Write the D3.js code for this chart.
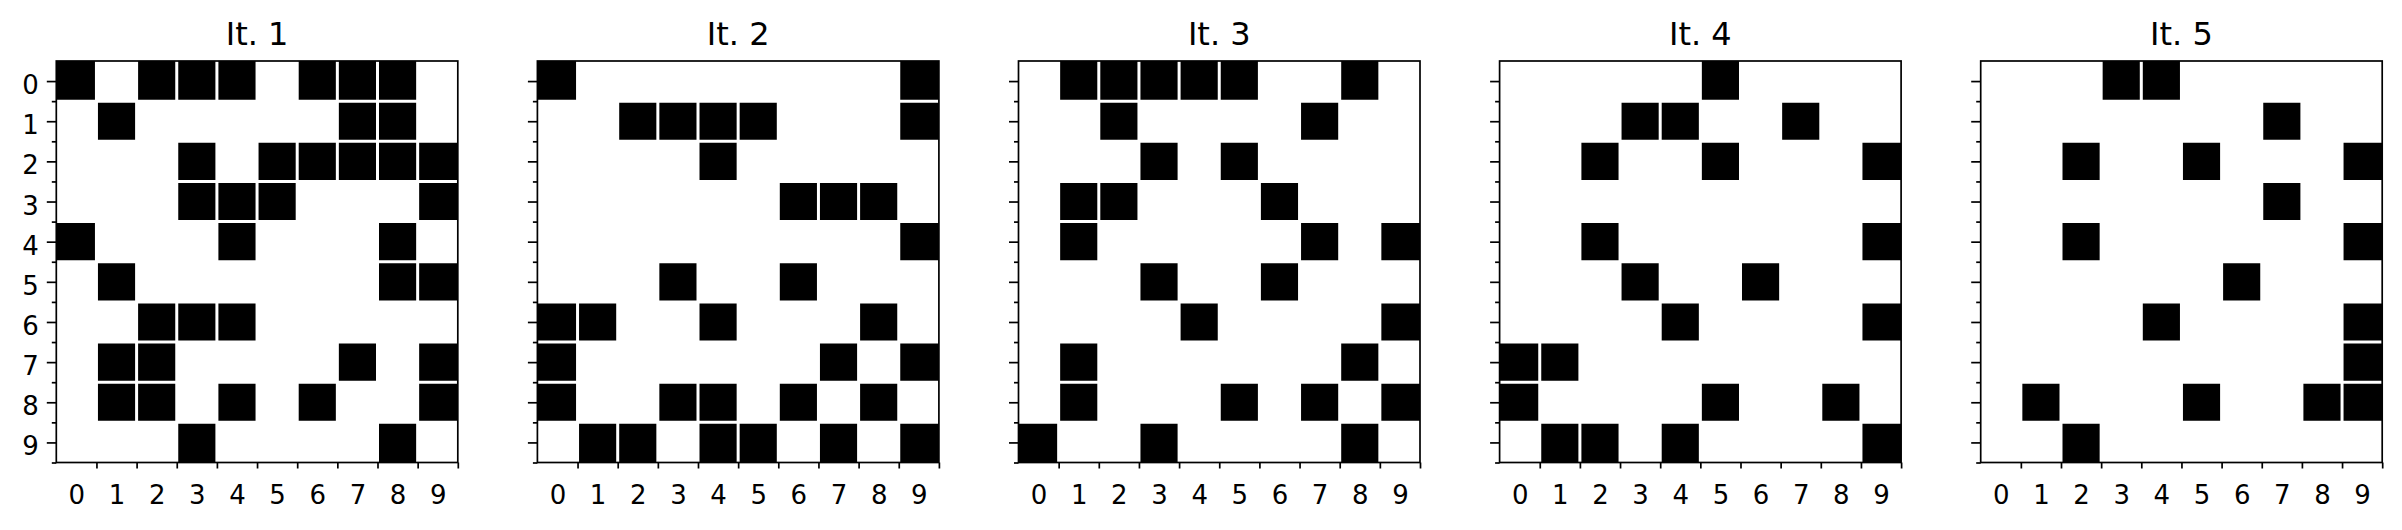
<!DOCTYPE html>
<html>
<head>
<meta charset="utf-8">
<script src="https://cdn.jsdelivr.net/npm/d3@7/dist/d3.min.js"></script>
<style>
  html, body { margin: 0; padding: 0; background: #fff; }
  svg { display: block; font-family: "DejaVu Sans", sans-serif; }
</style>
</head>
<body>
<svg id="chart" width="2402" height="530"></svg>
<script>
// ---- data ----
const titles = ["It. 1", "It. 2", "It. 3", "It. 4", "It. 5"];
const tickLabels = ["0","1","2","3","4","5","6","7","8","9"];

const it1 = [
  [1,0,1,1,1,0,1,1,1,0],
  [0,1,0,0,0,0,0,1,1,0],
  [0,0,0,1,0,1,1,1,1,1],
  [0,0,0,1,1,1,0,0,0,1],
  [1,0,0,0,1,0,0,0,1,0],
  [0,1,0,0,0,0,0,0,1,1],
  [0,0,1,1,1,0,0,0,0,0],
  [0,1,1,0,0,0,0,1,0,1],
  [0,1,1,0,1,0,1,0,0,1],
  [0,0,0,1,0,0,0,0,1,0]
];
const it2 = [
  [1,0,0,0,0,0,0,0,0,1],
  [0,0,1,1,1,1,0,0,0,1],
  [0,0,0,0,1,0,0,0,0,0],
  [0,0,0,0,0,0,1,1,1,0],
  [0,0,0,0,0,0,0,0,0,1],
  [0,0,0,1,0,0,1,0,0,0],
  [1,1,0,0,1,0,0,0,1,0],
  [1,0,0,0,0,0,0,1,0,1],
  [1,0,0,1,1,0,1,0,1,0],
  [0,1,1,0,1,1,0,1,0,1]
];
const it3 = [
  [0,1,1,1,1,1,0,0,1,0],
  [0,0,1,0,0,0,0,1,0,0],
  [0,0,0,1,0,1,0,0,0,0],
  [0,1,1,0,0,0,1,0,0,0],
  [0,1,0,0,0,0,0,1,0,1],
  [0,0,0,1,0,0,1,0,0,0],
  [0,0,0,0,1,0,0,0,0,1],
  [0,1,0,0,0,0,0,0,1,0],
  [0,1,0,0,0,1,0,1,0,1],
  [1,0,0,1,0,0,0,0,1,0]
];
const it4 = [
  [0,0,0,0,0,1,0,0,0,0],
  [0,0,0,1,1,0,0,1,0,0],
  [0,0,1,0,0,1,0,0,0,1],
  [0,0,0,0,0,0,0,0,0,0],
  [0,0,1,0,0,0,0,0,0,1],
  [0,0,0,1,0,0,1,0,0,0],
  [0,0,0,0,1,0,0,0,0,1],
  [1,1,0,0,0,0,0,0,0,0],
  [1,0,0,0,0,1,0,0,1,0],
  [0,1,1,0,1,0,0,0,0,1]
];
const it5 = [
  [0,0,0,1,1,0,0,0,0,0],
  [0,0,0,0,0,0,0,1,0,0],
  [0,0,1,0,0,1,0,0,0,1],
  [0,0,0,0,0,0,0,1,0,0],
  [0,0,1,0,0,0,0,0,0,1],
  [0,0,0,0,0,0,1,0,0,0],
  [0,0,0,0,1,0,0,0,0,1],
  [0,0,0,0,0,0,0,0,0,1],
  [0,1,0,0,0,1,0,0,1,1],
  [0,0,1,0,0,0,0,0,0,0]
];
const grids = [it1, it2, it3, it4, it5];

// ---- layout ----
const svg = d3.select("#chart");
const size = 401.5;
const top0 = 61;
const left0 = 56.3;
const step = 481.1;
const n = 10;

const x = d3.scaleLinear().domain([-0.5, n - 0.5]).range([0, size]);
const y = d3.scaleLinear().domain([-0.5, n - 0.5]).range([0, size]);

const centers = d3.range(n);
const bounds = d3.range(n).map(d => d + 0.5);

grids.forEach((grid, gi) => {
  const g = svg.append("g").attr("transform", `translate(${left0 + gi * step},${top0})`);

  // background
  g.append("rect").attr("width", size).attr("height", size).attr("fill", "#fff");

  // cells
  const cells = [];
  grid.forEach((row, r) => row.forEach((v, c) => { if (v) cells.push({r, c}); }));
  g.selectAll("rect.cell").data(cells).enter().append("rect")
    .attr("class", "cell")
    .attr("x", d => x(d.c - 0.5))
    .attr("y", d => y(d.r - 0.5))
    .attr("width", x(1) - x(0))
    .attr("height", y(1) - y(0))
    .attr("fill", "#000");

  // white grid lines at cell boundaries
  g.selectAll("line.vg").data(bounds.slice(0, n - 1)).enter().append("line")
    .attr("x1", d => x(d)).attr("x2", d => x(d))
    .attr("y1", 0).attr("y2", size)
    .attr("stroke", "#fff").attr("stroke-width", 3);
  g.selectAll("line.hg").data(bounds.slice(0, n - 1)).enter().append("line")
    .attr("y1", d => y(d)).attr("y2", d => y(d))
    .attr("x1", 0).attr("x2", size)
    .attr("stroke", "#fff").attr("stroke-width", 3);

  // x-axis: ticks at boundaries, labels at centers
  const xt = g.append("g").attr("transform", `translate(0,${size})`)
    .call(d3.axisBottom(x).tickValues(bounds).tickSize(6).tickFormat(""));
  xt.select(".domain").remove();
  xt.selectAll("line").attr("stroke", "#000").attr("stroke-width", 1.7);

  const xl = g.append("g").attr("transform", `translate(0,${size})`)
    .call(d3.axisBottom(x).tickValues(centers).tickSize(0).tickPadding(23)
      .tickFormat(d => tickLabels[d]));
  xl.select(".domain").remove();
  xl.selectAll("text").attr("font-size", 26).attr("fill", "#000")
    .attr("font-family", "DejaVu Sans");

  // y-axis: major ticks at centers, minor ticks at boundaries
  const ymaj = g.append("g")
    .call(d3.axisLeft(y).tickValues(centers).tickSize(9.5).tickPadding(8)
      .tickFormat(d => gi === 0 ? tickLabels[d] : ""));
  ymaj.select(".domain").remove();
  ymaj.selectAll("line").attr("stroke", "#000").attr("stroke-width", 1.7);
  ymaj.selectAll("text").attr("font-size", 26).attr("fill", "#000")
    .attr("font-family", "DejaVu Sans").attr("dy", "0.48em");

  const ymin = g.append("g")
    .call(d3.axisLeft(y).tickValues(bounds).tickSize(4.5).tickFormat(""));
  ymin.select(".domain").remove();
  ymin.selectAll("line").attr("stroke", "#000").attr("stroke-width", 1.7);

  // spine
  g.append("rect").attr("width", size).attr("height", size)
    .attr("fill", "none").attr("stroke", "#000").attr("stroke-width", 1.7);

  // title
  g.append("text").attr("x", size / 2).attr("y", -16)
    .attr("text-anchor", "middle").attr("font-size", 32).attr("fill", "#000")
    .text(titles[gi]);
});
</script>
</body>
</html>
